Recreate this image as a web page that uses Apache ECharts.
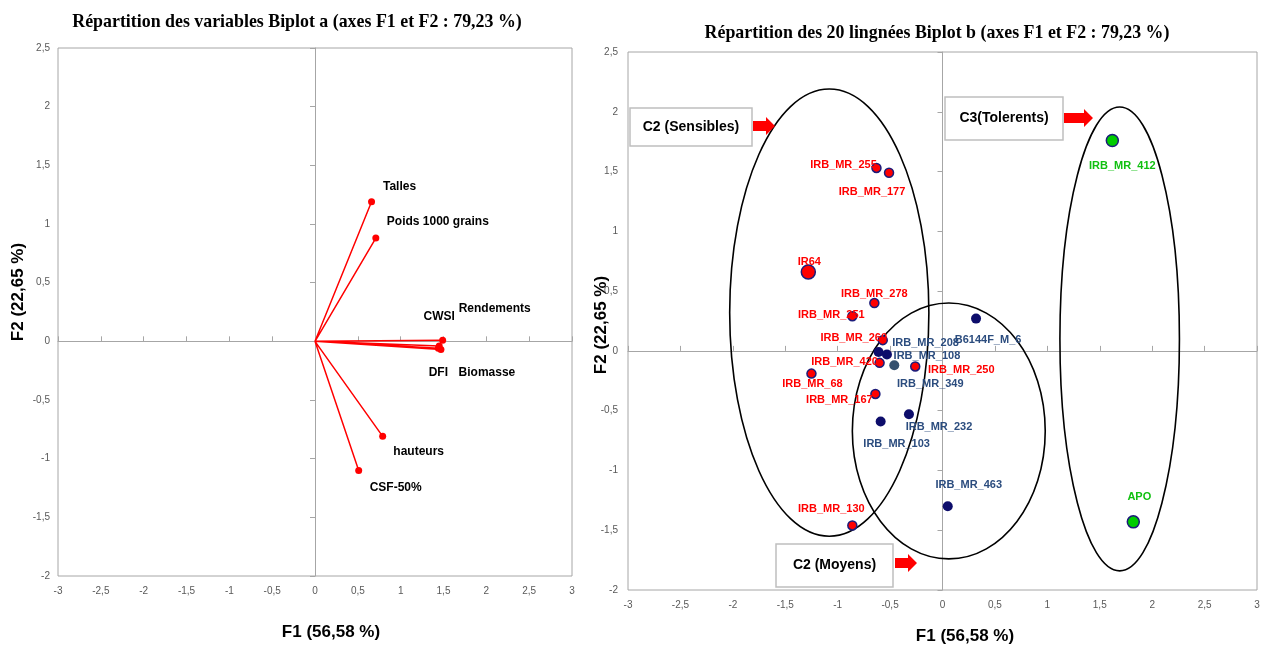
<!DOCTYPE html>
<html>
<head>
<meta charset="utf-8">
<script src="https://cdn.jsdelivr.net/npm/echarts@6/dist/echarts.min.js"></script>
<style>
	html, body { margin: 0; padding: 0; background: #fff; }
	#main { width: 1263px; height: 651px; }
</style>
</head>
<body>
<div id="main"></div>
<script>
// Biplot a : variables
var variables = ['Talles', 'Poids 1000 grains', 'Rendements', 'CWSI', 'DFI', 'Biomasse', 'hauteurs', 'CSF-50%'];
var varF1 = [0.66, 0.71, 1.49, 1.45, 1.44, 1.47, 0.79, 0.51];
var varF2 = [1.19, 0.88, 0.01, -0.04, -0.06, -0.07, -0.81, -1.10];

// Biplot b : 20 lignees
var lignees = ['IRB_MR_255', 'IRB_MR_177', 'IR64', 'IRB_MR_278', 'IRB_MR_251', 'IRB_MR_260', 'IRB_MR_420',
	'IRB_MR_68', 'IRB_MR_167', 'IRB_MR_250', 'IRB_MR_130',
	'IRB_MR_208', 'IRB_MR_108', 'IRB_MR_349', 'B6144F_M_6', 'IRB_MR_232', 'IRB_MR_103', 'IRB_MR_463',
	'IRB_MR_412', 'APO'];
var ligF1 = [-0.63, -0.51, -1.28, -0.65, -0.86, -0.57, -0.60, -1.25, -0.64, -0.26, -0.86,
	-0.61, -0.53, -0.46, 0.32, -0.32, -0.59, 0.05,
	1.62, 1.82];
var ligF2 = [1.53, 1.49, 0.66, 0.40, 0.29, 0.09, -0.10, -0.19, -0.36, -0.13, -1.46,
	-0.01, -0.03, -0.12, 0.27, -0.53, -0.59, -1.30,
	1.76, -1.43];
var groupe = ['S', 'S', 'S', 'S', 'S', 'S', 'S', 'S', 'S', 'S', 'S',
	'M', 'M', 'M', 'M', 'M', 'M', 'M',
	'T', 'T'];

// groupes (ellipses) : centre F1, centre F2, demi-axe F1, demi-axe F2
var groupesEllipses = [
	[-1.08, 0.32, 0.95, 1.87],
	[0.06, -0.67, 0.92, 1.07],
	[1.69, 0.10, 0.57, 1.94]
];

var axisTicks = { min: -3, max: 3, interval: 0.5 };
var axisTicksY = { min: -2, max: 2.5, interval: 0.5 };

// decalage des etiquettes (pixels)
var varLabelOffset = [[28, -15], [62, -16], [52, -31], [0, -29], [0, 24], [46, 23], [36, 15], [37, 17]];
var ligLabelOffset = [[-33, -3], [-17, 19], [1, -10], [0, -9], [-21, -1], [-29, -2], [-35, -1],
	[1, 10], [-36, 6], [46, 4], [-21, -16],
	[47, -9], [40, 1], [36, 19], [12, 21], [30, 13], [16, 23], [21, -21],
	[10, 25], [6, -25]];

var myChart = echarts.init(document.getElementById('main'));

function fmt(v) {
	return String(v).replace('.', ',');
}

function labelAxisX(grid) {
	return {
		type: 'value', gridIndex: grid, min: axisTicks.min, max: axisTicks.max, interval: axisTicks.interval,
		position: 'bottom',
		axisLine: { show: false, onZero: false },
		axisTick: { show: false },
		splitLine: { show: false },
		axisLabel: { formatter: fmt, fontSize: 10, color: '#595959', fontFamily: 'Liberation Sans', margin: 10 }
	};
}
function zeroAxisX(grid) {
	return {
		type: 'value', gridIndex: grid, min: axisTicks.min, max: axisTicks.max, interval: axisTicks.interval,
		position: 'bottom',
		axisLine: { show: true, onZero: true, lineStyle: { color: '#a6a6a6', width: 1 } },
		axisTick: { show: true, length: 5, inside: true, lineStyle: { color: '#a6a6a6' } },
		splitLine: { show: false },
		axisLabel: { show: false }
	};
}
function labelAxisY(grid, margin) {
	return {
		type: 'value', gridIndex: grid, min: axisTicksY.min, max: axisTicksY.max, interval: axisTicksY.interval,
		position: 'left',
		axisLine: { show: false, onZero: false },
		axisTick: { show: false },
		splitLine: { show: false },
		axisLabel: { formatter: fmt, fontSize: 10, color: '#595959', fontFamily: 'Liberation Sans', margin: margin }
	};
}
function zeroAxisY(grid) {
	return {
		type: 'value', gridIndex: grid, min: axisTicksY.min, max: axisTicksY.max, interval: axisTicksY.interval,
		position: 'left',
		axisLine: { show: true, onZero: true, lineStyle: { color: '#a6a6a6', width: 1 } },
		axisTick: { show: true, length: 5, lineStyle: { color: '#a6a6a6' } },
		splitLine: { show: false },
		axisLabel: { show: false }
	};
}

// vecteurs des variables : origine -> point, origine -> point ...
var vecData = [];
variables.forEach(function(name, i) {
	vecData.push({ value: [0, 0], symbolSize: 0, label: { show: false } });
	vecData.push({
		value: [varF1[i], varF2[i]],
		name: name,
		label: { show: true, formatter: name, position: 'inside', offset: varLabelOffset[i] }
	});
});

var styles = {
	S: { color: '#ff0000', borderColor: '#1c1c7a', borderWidth: 1.5, size: 9, label: '#ff0000' },
	M: { color: '#0d0d6b', borderColor: '#0d0d6b', borderWidth: 0, size: 10, label: '#2b4c7e' },
	T: { color: '#00cc00', borderColor: '#1c1c7a', borderWidth: 1.5, size: 12, label: '#11c011' }
};

var pointSeries = [];
['S', 'M', 'T'].forEach(function(g) {
	var pts = [];
	lignees.forEach(function(name, i) {
		if (groupe[i] !== g) return;
		var item = {
			value: [ligF1[i], ligF2[i]],
			name: name,
			label: { offset: ligLabelOffset[i] }
		};
		if (name === 'IR64') item.symbolSize = 14;
		if (name === 'IRB_MR_349') item.itemStyle = { color: '#34506e' };
		pts.push(item);
	});
	pointSeries.push({
		type: 'scatter',
		xAxisIndex: 2, yAxisIndex: 2,
		symbol: 'circle',
		symbolSize: styles[g].size,
		itemStyle: { color: styles[g].color, borderColor: styles[g].borderColor, borderWidth: styles[g].borderWidth, opacity: 1 },
		label: {
			show: true, position: 'inside', formatter: '{b}',
			color: styles[g].label, fontSize: 11, fontWeight: 'bold', fontFamily: 'Liberation Sans'
		},
		z: 5,
		data: pts
	});
});

function arrow(x, y, len) {
	return {
		type: 'polygon',
		shape: { points: [[x, y - 5], [x + len - 9, y - 5], [x + len - 9, y - 9], [x + len, y],
			[x + len - 9, y + 9], [x + len - 9, y + 5], [x, y + 5]] },
		style: { fill: '#ff0000' },
		z: 10
	};
}
function box(x, y, w, h, text) {
	return {
		type: 'group', z: 10,
		children: [
			{ type: 'rect', shape: { x: x, y: y, width: w, height: h }, style: { fill: '#fff', stroke: '#bfbfbf', lineWidth: 1.5 } },
			{ type: 'text', x: x + w / 2, y: y + h / 2, style: { text: text, fill: '#000', font: 'bold 14px "Liberation Sans"', align: 'center', verticalAlign: 'middle' } }
		]
	};
}
function axisTitle(x, y, text, rot) {
	return {
		type: 'text', x: x, y: y, rotation: rot || 0,
		style: { text: text, fill: '#000', font: 'bold 17px "Liberation Sans"', align: 'center', verticalAlign: 'middle' }
	};
}

option = {
	animation: false,
	grid: [
		{ left: 58, top: 48, width: 514, height: 528, show: true, borderColor: '#a6a6a6', borderWidth: 1 },
		{ left: 628, top: 52, width: 629, height: 538, show: true, borderColor: '#a6a6a6', borderWidth: 1 }
	],
	xAxis: [labelAxisX(0), zeroAxisX(0), labelAxisX(1), zeroAxisX(1)],
	yAxis: [labelAxisY(0, 8), zeroAxisY(0), labelAxisY(1, 10), zeroAxisY(1)],
	graphic: [
		{ type: 'text', x: 297, y: 22, scaleX: 0.94,
			style: { text: 'Répartition des variables Biplot a (axes F1 et F2 : 79,23 %)', fill: '#000',
				font: 'bold 19px "Liberation Serif"', align: 'center', verticalAlign: 'middle' } },
		{ type: 'text', x: 937, y: 33, scaleX: 0.94,
			style: { text: 'Répartition des 20 lingnées Biplot b (axes F1 et F2 : 79,23 %)', fill: '#000',
				font: 'bold 19px "Liberation Serif"', align: 'center', verticalAlign: 'middle' } },
		axisTitle(331, 632, 'F1 (56,58 %)'),
		axisTitle(965, 636, 'F1 (56,58 %)'),
		axisTitle(18, 292, 'F2 (22,65 %)', Math.PI / 2),
		axisTitle(601, 325, 'F2 (22,65 %)', Math.PI / 2),
		box(630, 108, 122, 38, 'C2 (Sensibles)'),
		arrow(753, 126, 22),
		box(945, 97, 118, 43, 'C3(Tolerents)'),
		arrow(1064, 118, 29),
		box(776, 544, 117, 43, 'C2 (Moyens)'),
		arrow(895, 563, 22)
	],
	series: [
		{
			type: 'line',
			xAxisIndex: 0, yAxisIndex: 0,
			symbol: 'circle',
			symbolSize: 7,
			lineStyle: { color: '#ff0000', width: 1.5 },
			itemStyle: { color: '#ff0000' },
			label: { color: '#000', fontSize: 12, fontWeight: 'bold', fontFamily: 'Liberation Sans' },
			data: vecData
		},
		{
			type: 'custom',
			xAxisIndex: 2, yAxisIndex: 2,
			silent: true,
			z: 1,
			renderItem: function(params, api) {
				var c = api.coord([api.value(0), api.value(1)]);
				var s = api.size([api.value(2), api.value(3)]);
				return {
					type: 'ellipse',
					shape: { cx: c[0], cy: c[1], rx: s[0], ry: s[1] },
					style: { fill: 'none', stroke: '#000', lineWidth: 1.6 }
				};
			},
			data: groupesEllipses
		}
	].concat(pointSeries)
};
myChart.setOption(option);
</script>
</body>
</html>
